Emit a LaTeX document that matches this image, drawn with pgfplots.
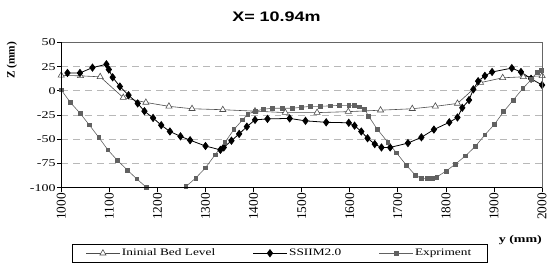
\documentclass[border=0pt]{standalone}
\usepackage{fontspec}
\setmainfont{Liberation Serif}[FakeStretch=1.35]
\newfontfamily\plainserif{Liberation Serif}
\newfontfamily\titlefont{Liberation Sans}[FakeStretch=1.3]
\usepackage{pgfplots}
\pgfplotsset{compat=1.18}
\begin{document}
\begin{tikzpicture}
\begin{axis}[name=ax,
  scale only axis, width=487pt, height=147pt,
  xmin=1000, xmax=2000, ymin=-100, ymax=50,
  xtick={1000,1100,1200,1300,1400,1500,1600,1700,1800,1900,2000},
  xticklabels={1000,1100,1200,1300,1400,1500,1600,1700,1800,1900,2000},
  ytick={-100,-75,-50,-25,0,25,50},
  yticklabels={-100,-75,-50,-25,0,25,50},
  tick align=outside, xtick pos=bottom, ytick pos=left,
  major tick length=4pt,
  axis line style={draw=none},
  tick style={black, line width=0.8pt},
  xticklabel style={font=\plainserif\fontsize{13.5}{13.5}\selectfont, rotate=90, anchor=east, inner sep=1.5pt},
  yticklabel style={font=\fontsize{10.5}{10.5}\selectfont, inner sep=1.5pt},
  ymajorgrids,
  grid style={black!28, line width=0.8pt, dash pattern=on 7pt off 5pt},
  legend columns=3,
  legend style={at={(0.454,-0.452)}, anchor=center, draw=black, line width=0.6pt,
    font=\fontsize{10}{10}\selectfont, inner xsep=14pt, inner ysep=2.5pt,
    /tikz/every even column/.append style={column sep=36pt}},
  legend image code/.code={\draw[#1, mark repeat=2, mark phase=2] plot coordinates {(0pt,0pt) (17pt,0pt) (34pt,0pt)};},
]
\addplot[draw=black!70, line width=0.6pt, mark=triangle*, mark size=3.6pt,
  mark options={fill=white, draw=black!70, solid}] coordinates {
(1000,16) (1040,15.5) (1081,14.5) (1129,-7) (1176,-12) (1224,-16) (1272,-18.5)
(1336,-19.5) (1403,-21) (1466,-22.5) (1532,-22.5) (1597,-21.5) (1664,-20)
(1730,-18.5) (1778,-16) (1824,-13) (1872,8.5) (1918,13.5) (1961,14.5) (2000,15.5)
};
\addlegendentry{Ininial Bed Level}
\addplot[draw=black, line width=0.8pt, mark=diamond*, mark size=3.6pt,
  mark options={fill=black, solid}] coordinates {
(1013,18.5) (1039,18.5) (1065,24) (1094,27.5) (1099,22) (1107,14) (1122,4.5)
(1140,-4.5) (1159,-13) (1173,-21) (1191,-28) (1208,-35.5) (1226,-42) (1248,-47)
(1268,-51) (1300,-57) (1331,-61) (1338,-58.5) (1354,-51.5) (1370,-44.5)
(1386,-37) (1403,-30) (1429,-29) (1475,-28.5) (1508,-31) (1551,-32.5)
(1598,-33) (1610,-36) (1624,-42) (1637,-49) (1652,-55) (1666,-58.5)
(1684,-58.5) (1721,-54) (1749,-48) (1775,-40) (1807,-32.5) (1824,-27.5)
(1834,-17.5) (1848,-9.5) (1857,1.5) (1867,10) (1881,15.5) (1896,19.5)
(1937,23.5) (1956,19.5) (1977,12.5) (2000,6)
};
\addlegendentry{SSIIM2.0}
\addplot[draw=black!62, line width=0.6pt, mark=square*, mark size=1.9pt,
  mark options={fill=black!62, draw=black!62, solid}] coordinates {
(1000,1) (1019,-12) (1039,-23) (1058,-35) (1078,-48) (1097,-61) (1117,-72)
(1138,-82) (1157,-91) (1177,-99.6) (1197,-100.5) (1218,-106) (1238,-103)
(1259,-99) (1280,-90) (1300,-79.5) (1320,-66) (1340,-53.5) (1359,-40)
(1377,-30) (1388,-24) (1403,-21) (1420,-19) (1439,-18) (1459,-18) (1480,-18)
(1499,-17) (1518,-16) (1539,-16) (1559,-15.5) (1579,-15) (1598,-15) (1610,-15)
(1620,-16.5) (1631,-19) (1639,-26) (1657,-39.5) (1679,-53) (1697,-64)
(1718,-77) (1736,-87) (1749,-90.5) (1761,-90.5) (1771,-90) (1781,-89)
(1800,-83) (1819,-76) (1841,-67) (1861,-57.5) (1881,-45.5) (1901,-34.5)
(1920,-21.5) (1940,-9.5) (1960,2.5) (1978,12) (1990,19.5) (1999,21)
};
\addlegendentry{Expriment}
\end{axis}
\draw[black!60, line width=1.2pt] (ax.north west) -- (ax.north east) -- (ax.south east);
\draw[black, line width=1.2pt] (ax.north west) -- (ax.south west) -- (ax.south east);
\node[font=\titlefont\bfseries\fontsize{14}{14}\selectfont] at (218pt,173pt) {X= 10.94m};
\node[rotate=90, font=\plainserif\bfseries\fontsize{11.5}{11.5}\selectfont] at (-50pt,129pt) {Z (mm)};
\node[anchor=east, inner sep=0pt, font=\bfseries\fontsize{10.5}{10.5}\selectfont] at (487pt,-53pt) {y (mm)};
\pgfresetboundingbox
\path (-62pt,-81pt) rectangle (496pt,190pt);
\end{tikzpicture}
\end{document}
